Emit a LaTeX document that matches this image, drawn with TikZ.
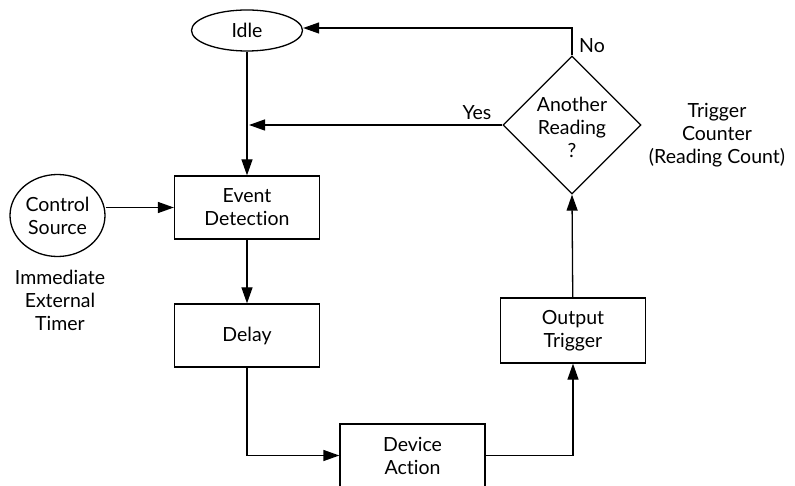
\documentclass[tikz,border=0pt]{standalone}
\usepackage{fontspec}
\setmainfont{Lato}[Ligatures={NoCommon,NoRare}]
\usetikzlibrary{shapes.geometric,arrows.meta}
\begin{document}
\begin{tikzpicture}[x=1pt,y=-1pt,
  every node/.style={font=\fontsize{19.5}{23}\selectfont, align=center, inner sep=0pt},
  box/.style={draw, line width=1.3pt, minimum width=145pt, minimum height=63pt},
  arr/.style={line width=1.3pt, -{Triangle[length=16pt,width=11pt]}},
  ln/.style={line width=1.3pt}]
\useasboundingbox (0,0) rectangle (795,486);
\clip (0,0) rectangle (795,486);
\node[draw, ellipse, line width=1.3pt, minimum width=111pt, minimum height=41pt] (idle) at (247,30.5) {Idle};
\node[box] (ed) at (247,207.5) {Event\\Detection};
\node[box] (delay) at (247,335.5) {Delay};
\node[box] (da) at (412.5,455.5) {Device\\Action};
\node[box, minimum height=65pt] (ot) at (573,330.5) {Output\\Trigger};
\node[draw, diamond, line width=1.3pt, minimum width=138pt, minimum height=138pt] (dia) at (572,125) {};
\node (diat) at (572,127) {Another\\Reading\\?};
\node[draw, ellipse, line width=1.3pt, minimum width=95pt, minimum height=82pt] (cs) at (57.5,215.5) {Control\\Source};
\node (cst) at (60,300) {Immediate\\External\\Timer};
\node (tc) at (717,135) {Trigger\\Counter\\(Reading Count)};
\node (yes) at (477,113) {Yes};
\node (no) at (592,46) {No};
\coordinate (nocorner) at (572,28);
\coordinate (yesend) at (249,125);
\draw[arr] (idle) -- (ed);
\draw[arr] (dia.west) -- (yesend);
\draw[arr] (dia.north) -- (nocorner) -- (nocorner -| idle.east);
\draw[arr] (cs.east |- ed.west) -- (ed.west);
\draw[arr] (ed) -- (delay);
\draw[arr] (delay.south) |- (da.west);
\draw[arr] (da.east) -| (ot.south);
\draw[arr] (ot) -- (dia.south);
\end{tikzpicture}
\end{document}
